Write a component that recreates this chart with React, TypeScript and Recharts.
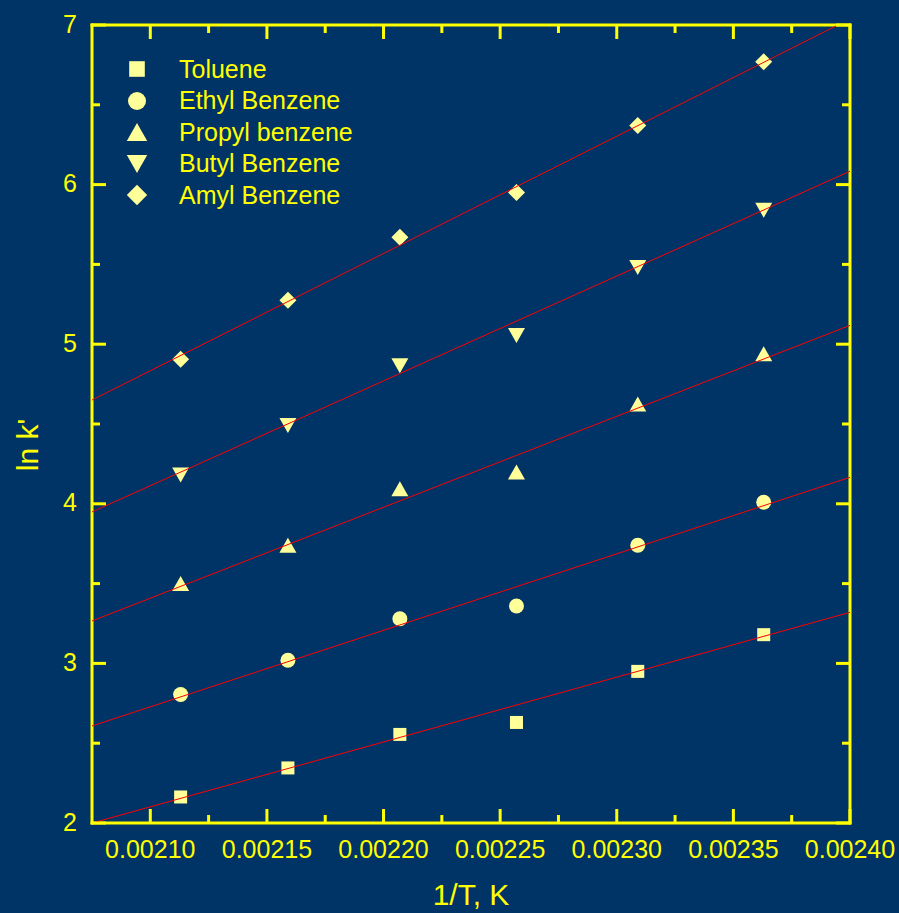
import { ScatterChart, Scatter, XAxis, YAxis } from 'recharts'

const BG = '#003366'
const AXIS = '#ffff00'
const MARK = '#ffff99'
const FIT = '#ff0000'
const FONT = '"Liberation Sans", Arial, sans-serif'

// 1/T for 200, 190, ..., 150 °C
const INV_T = [0.002113, 0.002159, 0.002207, 0.002257, 0.002309, 0.002363]
const TOLUENE = [2.163, 2.345, 2.555, 2.63, 2.95, 3.18]
const ETHYL = [2.805, 3.02, 3.28, 3.36, 3.74, 4.01]
const PROPYL = [3.5, 3.74, 4.095, 4.2, 4.625, 4.94]
const BUTYL = [4.18, 4.49, 4.865, 5.055, 5.48, 5.84]
const AMYL = [4.905, 5.275, 5.67, 5.95, 6.37, 6.77]

// fitted lines, read at the two ends of the x range
const FIT_X = [0.002075, 0.0024]
const FIT_TOLUENE = [2.0, 3.32]
const FIT_ETHYL = [2.608, 4.166]
const FIT_PROPYL = [3.266, 5.118]
const FIT_BUTYL = [3.949, 6.084]
const FIT_AMYL = [4.65, 7.038]

const X_DOMAIN = [0.002075, 0.0024]
const Y_DOMAIN = [2, 7]
const X_TICKS = [0.0021, 0.002125, 0.00215, 0.002175, 0.0022, 0.002225, 0.00225, 0.002275, 0.0023, 0.002325, 0.00235, 0.002375, 0.0024]
const Y_TICKS = [2, 2.5, 3, 3.5, 4, 4.5, 5, 5.5, 6, 6.5, 7]

const W = 899
const H = 913
// top/right axes are 1px boxes, so the plot runs from (92, 25) to (850, 823)
const MARGIN = { top: 24, right: 48, bottom: 0, left: 0 }
const X_AXIS_H = 90
const Y_AXIS_W = 92

const pts = (ys: number[]) => ys.map((y, i) => ({ x: INV_T[i], y }))
const fitPts = (ys: number[]) => ys.map((y, i) => ({ x: FIT_X[i], y }))

const isMajorX = (v: number) => Math.round(v * 1e6) % 50 === 0
const isMajorY = (v: number) => Math.round(v * 10) % 10 === 0

const Square = ({ cx, cy }: any) => <rect x={cx - 6.5} y={cy - 6.5} width={13} height={13} fill={MARK} />
const Dot = ({ cx, cy }: any) => <circle cx={cx} cy={cy} r={7.5} fill={MARK} />
const TriUp = ({ cx, cy }: any) => (
  <polygon points={`${cx},${cy - 7.5} ${cx + 8.5},${cy + 7.5} ${cx - 8.5},${cy + 7.5}`} fill={MARK} />
)
const TriDown = ({ cx, cy }: any) => (
  <polygon points={`${cx - 8.5},${cy - 7.5} ${cx + 8.5},${cy - 7.5} ${cx},${cy + 7.5}`} fill={MARK} />
)
const Diamond = ({ cx, cy }: any) => (
  <polygon points={`${cx},${cy - 8.5} ${cx + 8.5},${cy} ${cx},${cy + 8.5} ${cx - 8.5},${cy}`} fill={MARK} />
)
const NoShape = () => <g />

const SERIES = [
  { name: 'Toluene', data: TOLUENE, fit: FIT_TOLUENE, Shape: Square },
  { name: 'Ethyl Benzene', data: ETHYL, fit: FIT_ETHYL, Shape: Dot },
  { name: 'Propyl benzene', data: PROPYL, fit: FIT_PROPYL, Shape: TriUp },
  { name: 'Butyl Benzene', data: BUTYL, fit: FIT_BUTYL, Shape: TriDown },
  { name: 'Amyl Benzene', data: AMYL, fit: FIT_AMYL, Shape: Diamond },
]

const BottomTick = ({ x, y, payload }: any) => {
  const major = isMajorX(payload.value)
  return (
    <g>
      <line x1={x} x2={x} y1={y} y2={y - (major ? 14 : 8)} stroke={AXIS} strokeWidth={3} />
      {major && (
        <text x={x} y={y + 35} textAnchor="middle" fill={AXIS} fontSize={25} fontFamily={FONT}>
          {payload.value.toFixed(5)}
        </text>
      )}
    </g>
  )
}

const TopTick = ({ x, y, payload }: any) => (
  <line x1={x} x2={x} y1={y} y2={y + (isMajorX(payload.value) ? 14 : 8)} stroke={AXIS} strokeWidth={3} />
)

const LeftTick = ({ x, y, payload }: any) => {
  const major = isMajorY(payload.value)
  return (
    <g>
      <line x1={x} x2={x + (major ? 14 : 8)} y1={y} y2={y} stroke={AXIS} strokeWidth={3} />
      {major && (
        <text x={x - 15} y={y + 7.5} textAnchor="end" fill={AXIS} fontSize={25} fontFamily={FONT}>
          {payload.value}
        </text>
      )}
    </g>
  )
}

const RightTick = ({ x, y, payload }: any) => (
  <line x1={x} x2={x - (isMajorY(payload.value) ? 14 : 8)} y1={y} y2={y} stroke={AXIS} strokeWidth={3} />
)

const YTitle = ({ viewBox }: any) => {
  const x = (viewBox?.x ?? 0) + 38
  const y = (viewBox?.y ?? 25) + (viewBox?.height ?? 798) / 2 + 21
  return (
    <text x={x} y={y} transform={`rotate(-90 ${x} ${y})`} textAnchor="middle" fill={AXIS} fontSize={30} fontFamily={FONT}>
      ln k'
    </text>
  )
}

const axisLine = { stroke: AXIS, strokeWidth: 3, strokeLinecap: 'square' as const }

// legend symbols are drawn a little larger than the plot markers
function Legend() {
  return (
    <div style={{ position: 'absolute', left: 125, top: 53.5, fontFamily: FONT, fontSize: 25, color: AXIS }}>
      {SERIES.map(s => (
        <div key={s.name} style={{ display: 'flex', alignItems: 'center', height: 31.5, lineHeight: '31.5px' }}>
          <svg width={24} height={24} style={{ marginRight: 30 }}>
            <g transform="translate(12 12) scale(1.2)">
              <s.Shape cx={0} cy={0} />
            </g>
          </svg>
          <span style={{ whiteSpace: 'nowrap' }}>{s.name}</span>
        </div>
      ))}
    </div>
  )
}

export default function App() {
  return (
    <div style={{ position: 'relative', width: W, height: H, background: BG }}>
      <style>{`body { margin: 0; }`}</style>
      <ScatterChart width={W} height={H} margin={MARGIN}>
        <XAxis
          type="number" dataKey="x" domain={X_DOMAIN} allowDataOverflow ticks={X_TICKS} interval={0}
          height={X_AXIS_H} axisLine={axisLine} tickLine={false} tickSize={0} tickMargin={0} tick={BottomTick}
          label={{ value: '1/T, K', position: 'insideBottom', offset: 8, fill: AXIS, fontSize: 30, fontFamily: FONT }}
        />
        <XAxis
          xAxisId="top" orientation="top" type="number" dataKey="x" domain={X_DOMAIN} allowDataOverflow ticks={X_TICKS}
          interval={0} height={1} axisLine={axisLine} tickLine={false} tickSize={0} tickMargin={0} tick={TopTick}
        />
        <YAxis
          type="number" dataKey="y" domain={Y_DOMAIN} allowDataOverflow ticks={Y_TICKS} interval={0}
          width={Y_AXIS_W} axisLine={axisLine} tickLine={false} tickSize={0} tickMargin={0} tick={LeftTick}
          label={{ content: YTitle }}
        />
        <YAxis
          yAxisId="right" orientation="right" type="number" dataKey="y" domain={Y_DOMAIN} allowDataOverflow ticks={Y_TICKS}
          interval={0} width={1} axisLine={axisLine} tickLine={false} tickSize={0} tickMargin={0} tick={RightTick}
        />
        {SERIES.map(s => (
          <Scatter key={s.name} name={s.name} data={pts(s.data)} shape={s.Shape} isAnimationActive={false} />
        ))}
        {SERIES.map(s => (
          <Scatter
            key={s.name + '-fit'} xAxisId="top" yAxisId="right" data={fitPts(s.fit)} shape={NoShape}
            line={{ stroke: FIT, strokeWidth: 1 }} isAnimationActive={false}
          />
        ))}
      </ScatterChart>
      <Legend />
    </div>
  )
}
